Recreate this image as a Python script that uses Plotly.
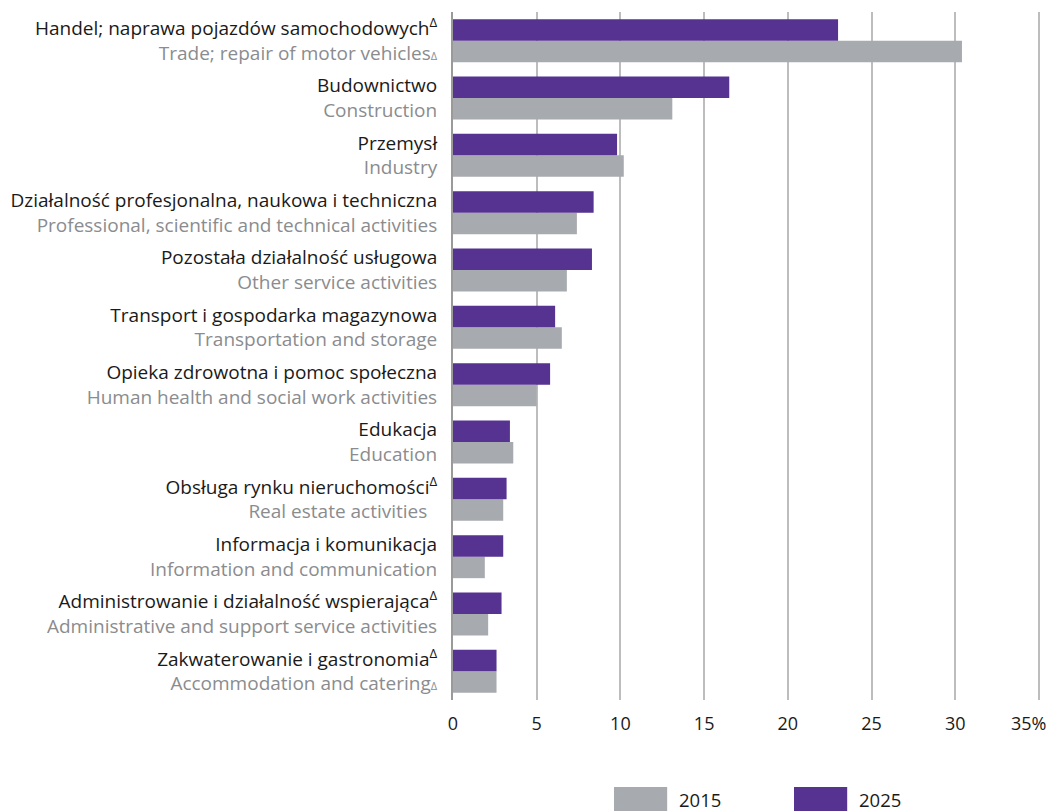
import plotly.graph_objects as go

# data (top to bottom)
sectors_pl = [
  "Handel; naprawa pojazdów samochodowych<sup>Δ</sup>",
  "Budownictwo",
  "Przemysł",
  "Działalność profesjonalna, naukowa i techniczna",
  "Pozostała działalność usługowa",
  "Transport i gospodarka magazynowa",
  "Opieka zdrowotna i pomoc społeczna",
  "Edukacja",
  "Obsługa rynku nieruchomości<sup>Δ</sup>",
  "Informacja i komunikacja",
  "Administrowanie i działalność wspierająca<sup>Δ</sup>",
  "Zakwaterowanie i gastronomia<sup>Δ</sup>",
]
sectors_en = [
  "Trade; repair of motor vehicles<span style='font-size:11px'>Δ</span>",
  "Construction",
  "Industry",
  "Professional, scientific and technical activities",
  "Other service activities",
  "Transportation and storage",
  "Human health and social work activities",
  "Education",
  "Real estate activities  ",
  "Information and communication",
  "Administrative and support service activities",
  "Accommodation and catering<span style='font-size:11px'>Δ</span>",
]
share_2015 = [30.4, 13.1, 10.2, 7.4, 6.8, 6.5, 5.0, 3.6, 3.0, 1.9, 2.1, 2.6]
share_2025 = [23.0, 16.5, 9.8, 8.4, 8.3, 6.1, 5.8, 3.4, 3.2, 3.0, 2.9, 2.6]
x_ticks = [0, 5, 10, 15, 20, 25, 30, 35]
x_tick_labels = ["0", "5", "10", "15", "20", "25", "30", "35%"]
years = ["2015", "2025"]

PURPLE = "#563291"
GREY = "#a7aaae"
colors = [GREY, PURPLE]

keys = [str(i) for i in range(len(sectors_pl))]
labels = [f"{pl}<br><span style='color:#8a8c8f'>{en}</span>" for pl, en in zip(sectors_pl, sectors_en)]
# last x label sits a little left of its gridline so it fits on the page
x_text = x_tick_labels[:-1] + [x_tick_labels[-1] + "<span style='color:rgba(0,0,0,0)'>00</span>"]

fig = go.Figure()
for year, vals, col in zip(years, [share_2015, share_2025], colors):
  fig.add_trace(go.Bar(y=keys, x=vals, orientation="h", name=year,
                       marker=dict(color=col, line=dict(width=0)), showlegend=False))

# page body has an 8px margin, so the figure is 8px smaller than the window
fig.update_layout(
  width=1047, height=803,
  margin=dict(l=445, r=11, t=4, b=111),
  plot_bgcolor="white", paper_bgcolor="white",
  barmode="group", bargap=0.25, bargroupgap=0,
  font=dict(family="Open Sans", size=19, color="#1a1a1a"),
  showlegend=False,
)
fig.update_xaxes(range=[0, 35.3], tickvals=x_ticks, ticktext=x_text,
                 showgrid=True, gridcolor="#bdbdbd", gridwidth=1.5,
                 zeroline=False, ticks="", ticklabelstandoff=11, automargin=False,
                 ticklabeloverflow="allow",
                 tickfont=dict(size=18, color="#1a1a1a"))
fig.update_yaxes(categoryorder="array", categoryarray=keys[::-1],
                 tickvals=keys, ticktext=labels, showgrid=False,
                 showline=True, linecolor="#9a9a9a", linewidth=2, automargin=False,
                 ticks="", ticklabelstandoff=10, tickfont=dict(size=19))

# legend drawn as big swatches below the plot
swatch_x = [0.2724, 0.577]
for year, col, x0 in zip(years, colors, swatch_x):
  fig.add_shape(type="rect", xref="paper", yref="paper", x0=x0, x1=x0 + 0.09,
                y0=-0.1265, y1=-0.17, fillcolor=col, line=dict(width=0))
  fig.add_annotation(xref="paper", yref="paper", x=x0 + 0.107, y=-0.145,
                     text=year, showarrow=False, xanchor="left", yanchor="middle",
                     font=dict(size=18.5, color="#1a1a1a"))

fig.write_html("out.html")
